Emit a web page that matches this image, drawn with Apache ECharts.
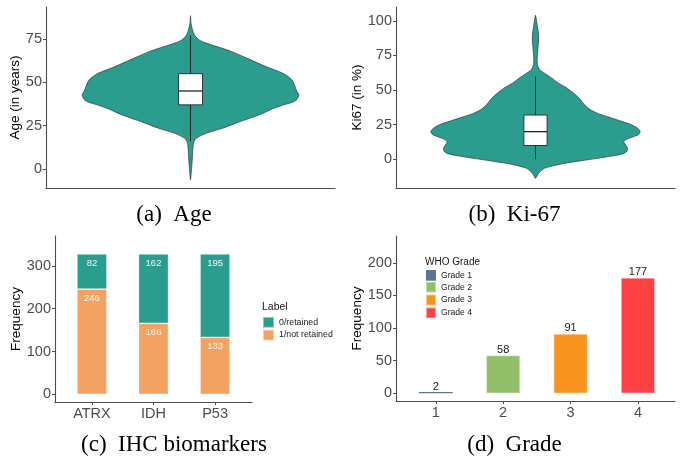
<!DOCTYPE html>
<html>
<head>
<meta charset="utf-8">
<script src="https://cdn.jsdelivr.net/npm/echarts@6/dist/echarts.min.js"></script>
<style>
  html, body { margin: 0; padding: 0; background: #fff; }
  #chart { width: 680px; height: 460px; }
</style>
</head>
<body>
<div id="chart"></div>
<script>
// Age distribution: violin outline (value in years, relative density width)
const ageLevels = [88.5, 84, 80, 77, 74.5, 72.5, 70.5, 68, 64, 59, 55, 51.5, 47.5, 45, 42.8, 40, 38.5, 37, 34.5, 32.2, 30, 27.4, 23.6, 20.7, 17.8, 15.5, 12, 8, 5, 2, -2, -6.2];
const ageWidths = [0, 0.005, 0.02, 0.04, 0.08, 0.15, 0.25, 0.37, 0.52, 0.70, 0.86, 0.935, 0.965, 0.98, 1.0, 0.98, 0.94, 0.86, 0.75, 0.67, 0.58, 0.46, 0.30, 0.15, 0.055, 0.03, 0.022, 0.018, 0.016, 0.012, 0.007, 0];
// Age box: lower whisker, Q1, median, Q3, upper whisker
const ageBox = [16, 37, 45, 55, 77];

// Ki-67 distribution (value in %, relative density width)
const ki67Levels = [104, 100, 95, 90, 86, 82, 77, 72, 68.5, 66, 64, 61.5, 59, 55, 52, 48, 44, 41, 38.5, 36, 33, 30.5, 28, 25.5, 23, 21, 19.9, 18, 16.3, 14.5, 12.7, 10.5, 8, 6, 4.3, 2.5, 0.7, -1, -3, -5, -6.5, -8.5, -10, -12, -13.7];
const ki67Widths = [0, 0.01, 0.02, 0.03, 0.03, 0.026, 0.02, 0.016, 0.018, 0.03, 0.05, 0.10, 0.15, 0.22, 0.29, 0.36, 0.42, 0.45, 0.48, 0.52, 0.60, 0.70, 0.80, 0.90, 0.965, 0.995, 1.0, 0.985, 0.935, 0.87, 0.845, 0.86, 0.88, 0.875, 0.845, 0.74, 0.59, 0.44, 0.27, 0.15, 0.085, 0.05, 0.03, 0.015, 0];
const ki67Box = [0, 10, 20, 32, 60];

// IHC biomarkers
const markers = ['ATRX', 'IDH', 'P53'];
const retained = [82, 162, 195];
const notRetained = [246, 166, 133];

// WHO grade counts
const grades = ['Grade 1', 'Grade 2', 'Grade 3', 'Grade 4'];
const gradeLevels = [1, 2, 3, 4];
const gradeCounts = [2, 58, 91, 177];

// Tick values
const ageTicks = [0, 25, 50, 75];
const ki67Ticks = [0, 25, 50, 75, 100];
const markerTicks = [0, 100, 200, 300];
const gradeTicks = [0, 50, 100, 150, 200];

const TEAL = '#2a9d8f';
const ORANGE = '#f4a261';
const GRADE_COLORS = ['#587794', '#93bf6b', '#f7941f', '#fd4245'];
const AXIS_COLOR = '#4d4d4d';
const SANS = 'Liberation Sans';
const SERIF = 'Liberation Serif';

function violinRenderer(levels, widths, box) {
  return function (params, api) {
    const half = 0.45, bw = 0.05;
    const right = levels.map((v, i) => api.coord([1 + half * widths[i], v]));
    const left = levels.slice(1, -1).map((v, i) => api.coord([1 - half * widths[i + 1], v])).reverse();
    const top = api.coord([1, box[4]]);
    const bottom = api.coord([1, box[0]]);
    const q3 = api.coord([1 - bw, box[3]]);
    const q1 = api.coord([1 + bw, box[1]]);
    const medL = api.coord([1 - bw, box[2]]);
    const medR = api.coord([1 + bw, box[2]]);
    return {
      type: 'group',
      children: [
        { type: 'polygon', shape: { points: right.concat(left), smooth: 0.25 },
          style: { fill: TEAL, stroke: '#333', lineWidth: 0.7 } },
        { type: 'line', shape: { x1: top[0], y1: top[1], x2: bottom[0], y2: bottom[1] },
          style: { stroke: '#222', lineWidth: 1 } },
        { type: 'rect', shape: { x: q3[0], y: q3[1], width: q1[0] - q3[0], height: q1[1] - q3[1] },
          style: { fill: '#fff', stroke: '#333', lineWidth: 1 } },
        { type: 'line', shape: { x1: medL[0], y1: medL[1], x2: medR[0], y2: medR[1] },
          style: { stroke: '#222', lineWidth: 1.3 } }
      ]
    };
  };
}

function yAxis(gridIndex, min, max, ticks, name, nameGap) {
  return {
    gridIndex, type: 'value', min, max,
    name, nameLocation: 'middle', nameGap,
    nameTextStyle: { color: '#000', fontSize: 13.5, fontFamily: SANS },
    axisLine: { show: true, lineStyle: { color: AXIS_COLOR, width: 1.1 } },
    axisTick: { show: true, length: 3, customValues: ticks, lineStyle: { color: AXIS_COLOR, width: 1 } },
    axisLabel: { customValues: ticks, margin: 4, color: AXIS_COLOR, fontSize: 14.5, fontFamily: SANS },
    splitLine: { show: false }
  };
}

function xAxis(gridIndex, min, max, ticks, formatter) {
  const showTicks = !!ticks;
  return {
    gridIndex, type: 'value', min, max,
    axisLine: { show: true, onZero: false, lineStyle: { color: AXIS_COLOR, width: 1.1 } },
    axisTick: showTicks ? { show: true, length: 3, customValues: ticks, lineStyle: { color: AXIS_COLOR, width: 1 } } : { show: false },
    axisLabel: showTicks ? { customValues: ticks, margin: 4, color: AXIS_COLOR, fontSize: 14.5, fontFamily: SANS, formatter } : { show: false },
    splitLine: { show: false }
  };
}

const barBorder = { borderColor: 'rgba(255,255,255,0.45)', borderWidth: 0.8 };

const chart = echarts.init(document.getElementById('chart'), null, { renderer: 'canvas' });

// Stacked IHC bars: the count is kept in the first dimension so the stack runs along y
const ihcLabel = { show: true, position: 'insideTop', distance: 4, color: '#f7f7f7', fontSize: 9.5, fontFamily: SANS,
  formatter: p => p.value[0] };

const series = [
  { type: 'custom', xAxisIndex: 0, yAxisIndex: 0, clip: false, silent: true,
    data: [[1, ageBox[2]]], renderItem: violinRenderer(ageLevels, ageWidths, ageBox) },
  { type: 'custom', xAxisIndex: 1, yAxisIndex: 1, clip: false, silent: true,
    data: [[1, ki67Box[2]]], renderItem: violinRenderer(ki67Levels, ki67Widths, ki67Box) },
  { type: 'bar', name: '1/not retained', xAxisIndex: 2, yAxisIndex: 2, stack: 'ihc', barWidth: 30,
    encode: { x: 1, y: 0 },
    itemStyle: Object.assign({ color: ORANGE }, barBorder), label: ihcLabel,
    data: notRetained.map((v, i) => [v, i + 1]) },
  { type: 'bar', name: '0/retained', xAxisIndex: 2, yAxisIndex: 2, stack: 'ihc', barWidth: 30,
    encode: { x: 1, y: 0 },
    itemStyle: Object.assign({ color: TEAL }, barBorder), label: ihcLabel,
    data: retained.map((v, i) => [v, i + 1]) }
];

grades.forEach((g, i) => {
  // the thinnest bar keeps a plain edge so its colour stays visible
  const style = i === 0 ? { color: GRADE_COLORS[i] } : Object.assign({ color: GRADE_COLORS[i] }, barBorder);
  series.push({
    type: 'bar', name: g, xAxisIndex: 3, yAxisIndex: 3, barWidth: 34, barGap: '-100%',
    itemStyle: style,
    label: { show: true, position: 'top', distance: 0, color: '#1a1a1a', fontSize: 11, fontFamily: SANS,
      formatter: p => p.value[1] },
    data: [[gradeLevels[i], gradeCounts[i]]]
  });
});

const captionStyle = { fontSize: 23, fontFamily: SERIF, fill: '#000', align: 'center', verticalAlign: 'middle' };

chart.setOption({
  animation: false,
  backgroundColor: '#fff',
  grid: [
    { left: 46, right: 345, top: 7, bottom: 272 },
    { left: 396, right: 5, top: 7, bottom: 272 },
    { left: 55, right: 428, top: 236, bottom: 58 },
    { left: 396, right: 5, top: 236, bottom: 59 }
  ],
  xAxis: [
    xAxis(0, 0.4, 1.6, null),
    xAxis(1, 0.4, 1.6, null),
    xAxis(2, 0.4, 3.6, [1, 2, 3], v => markers[Math.round(v) - 1]),
    xAxis(3, 0.41, 4.55, gradeLevels, v => String(v))
  ],
  yAxis: [
    yAxis(0, -11, 93.5, ageTicks, 'Age (in years)', 19),
    yAxis(1, -20.7, 110, ki67Ticks, 'Ki67 (in %)', 29),
    yAxis(2, -18, 370, markerTicks, 'Frequency', 27),
    yAxis(3, -11.8, 241, gradeTicks, 'Frequency', 29)
  ],
  legend: [
    { data: ['0/retained', '1/not retained'], orient: 'vertical', left: 262, top: 316, padding: 0,
      itemWidth: 11, itemHeight: 10.7, itemGap: 0, icon: 'rect', selectedMode: false,
      textStyle: { fontSize: 8.8, fontFamily: SANS, color: '#1a1a1a', lineHeight: 10.7 } },
    { data: grades, orient: 'vertical', left: 425, top: 270, padding: 0,
      itemWidth: 10, itemHeight: 10.8, itemGap: 0, icon: 'rect', selectedMode: false,
      textStyle: { fontSize: 8.6, fontFamily: SANS, color: '#1a1a1a', lineHeight: 10.8 } }
  ],
  graphic: [
    { type: 'text', x: 174, y: 215, style: Object.assign({ text: '(a)  Age' }, captionStyle) },
    { type: 'text', x: 514.5, y: 215, style: Object.assign({ text: '(b)  Ki-67' }, captionStyle) },
    { type: 'text', x: 174, y: 445, style: Object.assign({ text: '(c)  IHC biomarkers' }, captionStyle) },
    { type: 'text', x: 514.5, y: 445, style: Object.assign({ text: '(d)  Grade' }, captionStyle) },
    { type: 'text', x: 262, y: 307, style: { text: 'Label', fontSize: 10.5, fontFamily: SANS, fill: '#1a1a1a', align: 'left', verticalAlign: 'middle' } },
    { type: 'text', x: 425, y: 262, style: { text: 'WHO Grade', fontSize: 10, fontFamily: SANS, fill: '#1a1a1a', align: 'left', verticalAlign: 'middle' } }
  ],
  series
});
</script>
</body>
</html>
